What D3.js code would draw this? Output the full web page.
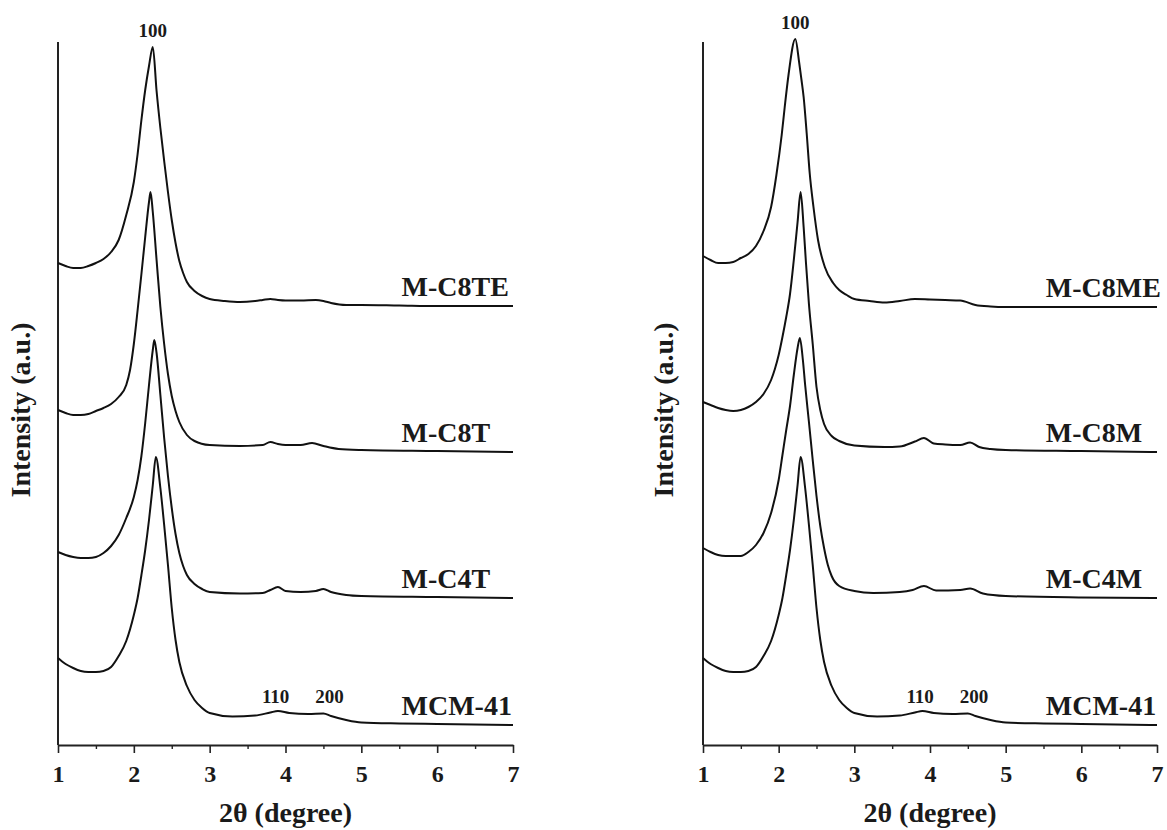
<!DOCTYPE html>
<html>
<head>
<meta charset="utf-8">
<script src="https://cdn.jsdelivr.net/npm/d3@7"></script>
<style>
  html, body { margin: 0; padding: 0; background: #fff; }
  svg { display: block; }
  text { font-family: "Liberation Serif", "Times New Roman", serif; font-weight: bold; fill: #1a1a1a; }
</style>
</head>
<body>
<svg id="chart" width="1167" height="830"></svg>
<script>
// Small-angle XRD patterns, [2θ (degree), intensity (a.u.)] relative to each pattern's own tail.
const mC8TE = [[1.00,43],[1.10,40],[1.20,38],[1.30,38],[1.40,40],[1.50,43],[1.60,47],[1.70,54],[1.80,66],[1.90,91],[2.00,124],[2.05,152],[2.10,186],[2.15,216],[2.20,240],[2.25,259],[2.30,215],[2.35,178],[2.40,145],[2.45,114],[2.50,86],[2.55,63],[2.60,45],[2.65,33],[2.70,24],[2.80,15],[2.90,10],[3.00,7],[3.20,5],[3.40,4],[3.60,5],[3.70,6],[3.80,7],[3.90,6],[4.00,5.5],[4.20,5.5],[4.40,6],[4.50,5],[4.60,3],[4.80,1],[5.00,1],[5.50,0.5],[6.00,0],[7.00,0]];
const mC8T = [[1.00,42],[1.10,39],[1.20,37],[1.30,37],[1.40,38],[1.50,41],[1.60,44],[1.70,48],[1.80,55],[1.90,67],[1.95,82],[2.00,108],[2.05,142],[2.10,178],[2.15,215],[2.20,250],[2.22,260],[2.25,240],[2.30,192],[2.35,145],[2.40,108],[2.45,78],[2.50,56],[2.55,41],[2.60,30],[2.70,17],[2.80,11],[3.00,7],[3.40,6],[3.70,7],[3.80,10],[3.90,8],[4.00,7],[4.20,7],[4.35,9],[4.50,6],[4.70,3],[5.00,2],[6.00,1],[7.00,0]];
const mC4T = [[1.00,46],[1.10,43],[1.20,41],[1.30,40],[1.40,40],[1.50,41],[1.60,45],[1.70,52],[1.80,63],[1.90,80],[2.00,101],[2.05,118],[2.10,142],[2.15,175],[2.20,213],[2.25,248],[2.27,258],[2.30,245],[2.35,203],[2.40,160],[2.45,122],[2.50,90],[2.55,64],[2.60,45],[2.65,32],[2.70,23],[2.80,14],[2.90,9],[3.00,6],[3.40,4.5],[3.70,5],[3.80,8],[3.90,11],[4.00,7],[4.20,6],[4.40,7],[4.50,9],[4.60,6],[4.80,3],[5.00,2],[6.00,1],[7.00,0]];
const mcm41 = [[1.00,67],[1.10,61],[1.20,57],[1.30,54],[1.40,53],[1.50,53],[1.60,54],[1.70,58],[1.80,69],[1.90,84],[2.00,110],[2.05,127],[2.10,150],[2.15,175],[2.20,205],[2.25,240],[2.29,268],[2.35,237],[2.40,200],[2.45,160],[2.50,117],[2.55,85],[2.60,63],[2.70,39],[2.80,25],[2.90,17],[3.00,12],[3.30,8.5],[3.60,9.5],[3.80,12.5],[3.90,14],[4.05,12],[4.30,11],[4.50,11.5],[4.60,9],[4.80,5],[5.00,2.5],[5.50,1.5],[6.00,1],[7.00,0]];
const mC8ME = [[1.00,51],[1.10,47],[1.20,44],[1.30,44],[1.40,45],[1.50,49],[1.60,53],[1.70,61],[1.80,76],[1.90,100],[1.97,132],[2.04,172],[2.08,200],[2.13,232],[2.22,268],[2.27,245],[2.30,228],[2.33,210],[2.37,174],[2.41,134],[2.46,100],[2.52,67],[2.61,40],[2.72,24],[2.80,17],[2.90,12],[3.00,8],[3.20,6],[3.40,4.5],[3.60,6],[3.80,8],[4.00,7.5],[4.20,7],[4.40,6.5],[4.60,2],[4.80,0.5],[5.00,0],[6.00,0],[7.00,0]];
const mC8M = [[1.00,50],[1.10,47],[1.20,44],[1.30,42],[1.40,41],[1.50,42],[1.60,45],[1.70,50],[1.80,58],[1.90,72],[1.95,83],[2.00,97],[2.05,115],[2.10,135],[2.15,158],[2.20,192],[2.25,230],[2.29,260],[2.33,225],[2.36,190],[2.40,148],[2.45,108],[2.50,65],[2.55,42],[2.60,28],[2.70,16],[2.80,11],[3.00,6.5],[3.40,5],[3.60,5.5],[3.80,10.5],[3.92,14],[4.05,8.5],[4.20,7.5],[4.40,7],[4.53,9.5],[4.65,5],[4.80,3],[5.00,2],[6.00,1],[7.00,0]];
const mC4M = [[1.00,50],[1.10,46],[1.20,43],[1.30,42],[1.40,42],[1.50,42],[1.60,46],[1.70,53],[1.80,65],[1.90,85],[2.00,118],[2.05,143],[2.10,168],[2.15,192],[2.20,223],[2.25,250],[2.28,260],[2.32,238],[2.35,213],[2.40,176],[2.45,138],[2.50,102],[2.55,72],[2.60,50],[2.65,33],[2.70,22],[2.80,12],[3.00,7],[3.25,5],[3.60,6],[3.77,8],[3.92,12],[4.08,7.5],[4.40,8],[4.53,9.5],[4.70,4.5],[5.00,2],[6.00,0.5],[7.00,0]];

// Stacking order and vertical offsets (a.u.) for each panel, top to bottom.
const leftNames = ["M-C8TE", "M-C8T", "M-C4T", "MCM-41"];
const leftPatterns = [mC8TE, mC8T, mC4T, mcm41];
const leftOffsets = [439, 293, 147, 20];
const rightNames = ["M-C8ME", "M-C8M", "M-C4M", "MCM-41"];
const rightPatterns = [mC8ME, mC8M, mC4M, mcm41];
const rightOffsets = [438, 293, 147, 20];

const xTicks = [1, 2, 3, 4, 5, 6, 7];
const xMinorTicks = [1.5, 2.5, 3.5, 4.5, 5.5, 6.5];
const hklMain = "100";
const hklMinor = [["110", 3.87], ["200", 4.58]];
const sampleLabelX = 5.53;

const svg = d3.select("#chart");
const yTop = 42, yBottom = 745;
const y = d3.scaleLinear().domain([0, 703]).range([yBottom, yTop]);

const panels = [
  { x0: 58, x1: 513, names: leftNames, patterns: leftPatterns, offsets: leftOffsets, titleX: 30 },
  { x0: 703, x1: 1157, names: rightNames, patterns: rightPatterns, offsets: rightOffsets, titleX: 673 }
];

panels.forEach(p => {
  const x = d3.scaleLinear().domain([1, 7]).range([p.x0, p.x1]);
  const g = svg.append("g");

  // bottom axis: labelled integer ticks plus half-degree minor ticks
  const axis = g.append("g")
    .attr("transform", `translate(0,${yBottom})`)
    .call(d3.axisBottom(x).tickValues(xTicks).tickFormat(d3.format("d")).tickSize(8).tickSizeOuter(0).tickPadding(12));
  axis.select(".domain").attr("stroke", "#222").attr("stroke-width", 2);
  axis.selectAll(".tick line").attr("stroke", "#222").attr("stroke-width", 1.6);
  axis.selectAll(".tick text")
    .style("font-size", "24px")
    .style("font-family", "'Liberation Serif', 'Times New Roman', serif")
    .style("font-weight", "bold")
    .attr("fill", "#1a1a1a");
  const minor = g.append("g")
    .attr("transform", `translate(0,${yBottom})`)
    .call(d3.axisBottom(x).tickValues(xMinorTicks).tickFormat("").tickSize(4).tickSizeOuter(0));
  minor.select(".domain").remove();
  minor.selectAll(".tick line").attr("stroke", "#222").attr("stroke-width", 1.4);

  // left axis line only
  g.append("line")
    .attr("x1", x(1)).attr("x2", x(1))
    .attr("y1", yBottom).attr("y2", yTop)
    .attr("stroke", "#222").attr("stroke-width", 2);

  const line = d3.line()
    .x(d => x(d[0]))
    .y(d => y(d[1]))
    .curve(d3.curveMonotoneX);

  p.patterns.forEach((pat, i) => {
    const off = p.offsets[i];
    g.append("path")
      .datum(pat.map(d => [d[0], d[1] + off]))
      .attr("d", line)
      .attr("fill", "none")
      .attr("stroke", "#111")
      .attr("stroke-width", 2)
      .attr("stroke-linejoin", "round");
    g.append("text")
      .attr("x", x(sampleLabelX))
      .attr("y", y(off) - 10)
      .style("font-size", "28px")
      .text(p.names[i]);
  });

  // (100) reflection label above the top pattern's main peak
  const top = p.patterns[0];
  const peak = top.reduce((a, b) => (b[1] > a[1] ? b : a));
  g.append("text")
    .attr("x", x(peak[0]))
    .attr("y", y(peak[1] + p.offsets[0]) - 10)
    .attr("text-anchor", "middle")
    .style("font-size", "19px")
    .text(hklMain);

  // (110) and (200) reflections on the MCM-41 pattern
  const base = p.patterns[3];
  const hklLevel = d3.max(base.filter(d => d[0] > 3.5 && d[0] < 4.7), d => d[1]) + p.offsets[3];
  hklMinor.forEach(([lab, tt]) => {
    g.append("text")
      .attr("x", x(tt))
      .attr("y", y(hklLevel) - 8)
      .attr("text-anchor", "middle")
      .style("font-size", "19px")
      .text(lab);
  });

  // axis titles
  g.append("text")
    .attr("transform", `translate(${p.titleX},410) rotate(-90)`)
    .attr("text-anchor", "middle")
    .style("font-size", "28px")
    .text("Intensity (a.u.)");
  g.append("text")
    .attr("x", (p.x0 + p.x1) / 2)
    .attr("y", 822)
    .attr("text-anchor", "middle")
    .style("font-size", "28px")
    .text("2θ (degree)");
});
</script>
</body>
</html>
